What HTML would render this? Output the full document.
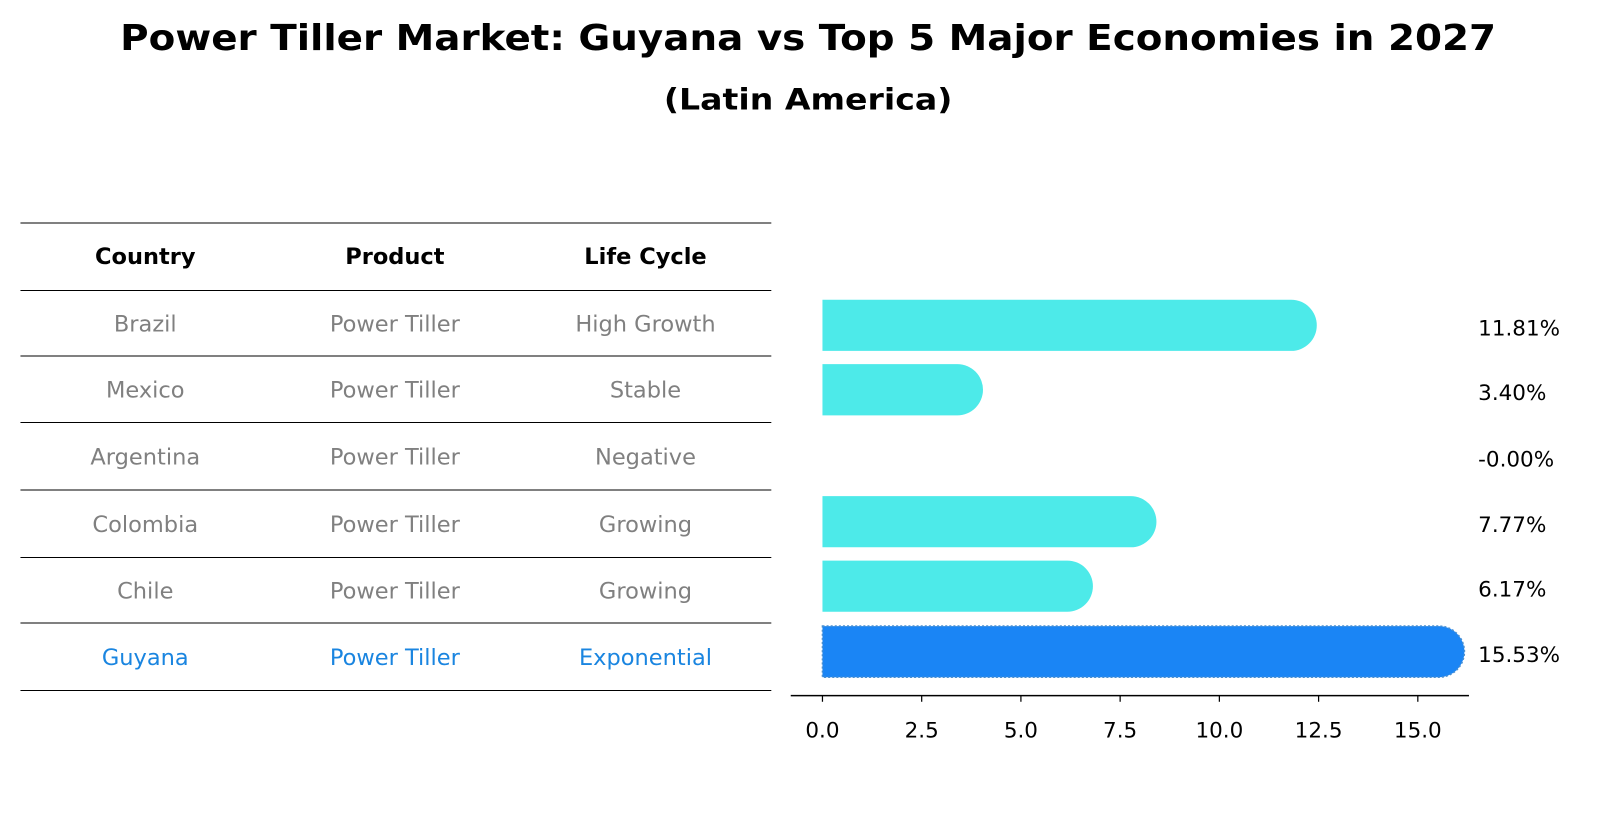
<!DOCTYPE html>
<html><head><meta charset="utf-8"><style>
body{margin:0;background:#fff;}
svg{display:block;font-family:"DejaVu Sans","Liberation Sans",sans-serif;}
</style></head><body>
<svg id="chart" width="1604" height="823" viewBox="0 0 1568 804.5" preserveAspectRatio="none">
<text x="790" y="49" text-anchor="middle" font-size="35" font-weight="bold" textLength="1345" lengthAdjust="spacingAndGlyphs">Power Tiller Market: Guyana vs Top 5 Major Economies in 2027</text>
<text x="790" y="107" text-anchor="middle" font-size="29" font-weight="bold" textLength="282" lengthAdjust="spacingAndGlyphs">(Latin America)</text>
<g id="table"></g>
<g id="bars"></g>
</svg>
<script>
const countries=["Brazil","Mexico","Argentina","Colombia","Chile","Guyana"];
const products=["Power Tiller","Power Tiller","Power Tiller","Power Tiller","Power Tiller","Power Tiller"];
const lifeCycles=["High Growth","Stable","Negative","Growing","Growing","Exponential"];
const growth=[11.81,3.40,-0.00,7.77,6.17,15.53];
const ticks=[0,2.5,5,7.5,10,12.5,15];
const NS="http://www.w3.org/2000/svg";
function mk(tag,attrs,parent,text){const e=document.createElementNS(NS,tag);for(const k in attrs)e.setAttribute(k,attrs[k]);if(text!==undefined)e.textContent=text;parent.appendChild(e);return e;}
const table=document.getElementById('table');
const bars=document.getElementById('bars');
const lineYs=[218,284,348,413,479,545,609,675];
lineYs.forEach(y=>{const l=mk('line',{x1:20,x2:754,y1:y,y2:y,stroke:'#000','stroke-width':1},table);

});
const colX=[142,386,631];
["Country","Product","Life Cycle"].forEach((h,i)=>{const t=mk('text',{x:colX[i],y:258,'text-anchor':'middle','font-size':22,'font-weight':'bold'},table,h);

});
const rowY=i=>(lineYs[i+1]+lineYs[i+2])/2+8;
countries.forEach((c,i)=>{const col=c==="Guyana"?"#1a85e0":"#808080";
[c,products[i],lifeCycles[i]].forEach((v,j)=>{const t=mk('text',{x:colX[j],y:rowY(i),'text-anchor':'middle','font-size':22,fill:col},table,v);

});});
const x0=804,pxPer=(1386-804)/15;
const xs=v=>x0+v*pxPer;
const barCY=[318,381,446,510,573,637];
const bh=50,r=25;
countries.forEach((c,i)=>{const v=growth[i];
if(v>0.001){const end=xs(v);const top=barCY[i]-bh/2;const guy=c==="Guyana";
const p=mk('path',{d:`M${x0},${top} H${end} A${r},${r} 0 0 1 ${end},${top+bh} H${x0} Z`,fill:guy?'#1a85f5':'#4deae9',stroke:guy?'#4a8fd0':'none','stroke-width':guy?1.5:0,'stroke-dasharray':guy?'2,2':'none'},bars);

}
const t=mk('text',{x:1445,y:barCY[i]+10,'font-size':21},bars,v.toFixed(2)+'%');
if(Object.is(v,-0))t.textContent='-0.00%';

});
const ax=mk('line',{x1:773,x2:1436,y1:680,y2:680,stroke:'#000','stroke-width':1.5},bars);


ticks.forEach(t=>{const tl=mk('line',{x1:xs(t),x2:xs(t),y1:680,y2:686,stroke:'#000','stroke-width':1.2},bars);


const tx=mk('text',{x:xs(t),y:721,'text-anchor':'middle','font-size':21},bars,t.toFixed(1));

});
</script>
</body></html>
